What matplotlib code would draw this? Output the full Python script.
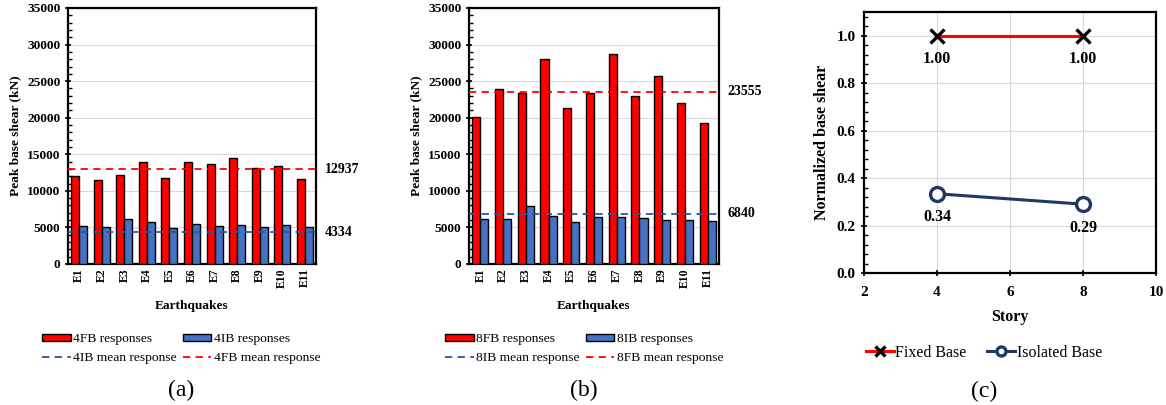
import numpy as np
import matplotlib
matplotlib.use("Agg")
import matplotlib.pyplot as plt
from matplotlib.ticker import MultipleLocator, FormatStrFormatter

plt.rcParams['font.family'] = ['Liberation Serif', 'DejaVu Serif']

earthquakes = ['E1', 'E2', 'E3', 'E4', 'E5', 'E6', 'E7', 'E8', 'E9', 'E10', 'E11']

fb4 = [12030, 11440, 12210, 13950, 11800, 13950, 13720, 14540, 13130, 13350, 11670]
ib4 = [5200, 5100, 6200, 5790, 4970, 5420, 5200, 5330, 5100, 5330, 5100]
fb4_mean = 12937
ib4_mean = 4334

fb8 = [20140, 23970, 23420, 28030, 21330, 23330, 28670, 22920, 25750, 22010, 19230]
ib8 = [6150, 6110, 7980, 6560, 5790, 6380, 6380, 6240, 6020, 6020, 5920]
fb8_mean = 23555
ib8_mean = 6840

stories = [4, 8]
fixed_norm = [1.00, 1.00]
isolated_norm = [0.334, 0.290]
fixed_labels = ['1.00', '1.00']
isolated_labels = ['0.34', '0.29']

RED = '#FF0000'
BLUE = '#4472C4'
DBLUE = '#2F5597'
NAVY = '#203864'

W, H = 1166, 405
fig = plt.figure(figsize=(W / 100, H / 100), dpi=100)


def px_axes(left, top, right, bottom):
    return fig.add_axes([left / W, 1 - bottom / H, (right - left) / W, (bottom - top) / H])


def style_spines(ax):
    for s in ax.spines.values():
        s.set_linewidth(1.6)


def bar_panel(ax, fb, ib, fb_mean, ib_mean, tag):
    x = np.arange(len(earthquakes))
    w = 0.355
    b_fb = ax.bar(x - w / 2, fb, w, color=RED, edgecolor='black', linewidth=1.0, zorder=3)
    b_ib = ax.bar(x + w / 2, ib, w, color=BLUE, edgecolor='black', linewidth=1.0, zorder=3)
    l_ib = ax.axhline(ib_mean, color=DBLUE, ls=(0, (4, 3)), lw=1.3, zorder=4)
    l_fb = ax.axhline(fb_mean, color=RED, ls=(0, (4, 3)), lw=1.3, zorder=4)
    ax.set_xlim(-0.5, len(earthquakes) - 0.5)
    ax.set_ylim(0, 35000)
    ax.yaxis.set_major_locator(MultipleLocator(5000))
    ax.yaxis.set_minor_locator(MultipleLocator(1000))
    ax.grid(axis='y', color='#D9D9D9', lw=0.8, zorder=0)
    ax.set_xticks(x)
    ax.set_xticklabels(earthquakes, rotation=90, fontweight='bold', fontsize=8.5)
    ax.tick_params(axis='x', length=0, pad=3)
    ax.tick_params(axis='y', which='major', direction='inout', length=5, width=1.2,
                   labelsize=9.6, pad=3)
    ax.tick_params(axis='y', which='minor', direction='in', length=3, width=1.0)
    for lab in ax.get_yticklabels():
        lab.set_fontweight('bold')
    style_spines(ax)
    ax.set_ylabel('Peak base shear (kN)', fontweight='bold', fontsize=9.6, labelpad=4)
    ax.set_xlabel('Earthquakes', fontweight='bold', fontsize=9.6, labelpad=9)
    for v in (fb_mean, ib_mean):
        ax.text(1.035, v, f'{v}', transform=ax.get_yaxis_transform(),
                va='center', ha='left', fontweight='bold', fontsize=10)
    handles = [b_fb, l_ib, b_ib, l_fb]
    labels = [f'{tag}FB responses', f'{tag}IB mean response',
              f'{tag}IB responses', f'{tag}FB mean response']
    return handles, labels


def bar_legend(handles, labels, cx):
    fig.legend(handles, labels, ncol=2, loc='center', bbox_to_anchor=(cx / W, 1 - 348.5 / H),
               frameon=False, fontsize=9.7, handlelength=2.15, handleheight=0.45,
               handletextpad=0.15, columnspacing=0.45, labelspacing=0.5,
               borderaxespad=0, borderpad=0)


ax1 = px_axes(68, 8, 316, 264)
h, l = bar_panel(ax1, fb4, ib4, fb4_mean, ib4_mean, '4')
bar_legend(h, l, 181)
fig.text(181 / W, 1 - 390 / H, '(a)', ha='center', va='center', fontsize=17)

ax2 = px_axes(469, 8, 719, 264)
h, l = bar_panel(ax2, fb8, ib8, fb8_mean, ib8_mean, '8')
bar_legend(h, l, 584)
fig.text(584 / W, 1 - 390 / H, '(b)', ha='center', va='center', fontsize=17)

ax3 = px_axes(864, 12, 1156, 273)
ax3.plot(stories, fixed_norm, color=RED, lw=2.2, marker='x', ms=10, mec='black',
         mew=2.4, label='Fixed Base', zorder=3)
ax3.plot(stories, isolated_norm, color=NAVY, lw=2.2, marker='o', ms=10, mec=NAVY,
         mfc='white', mew=2.4, label='Isolated Base', zorder=3)
for xs, ys, lab in zip(stories + stories, fixed_norm + isolated_norm,
                       fixed_labels + isolated_labels):
    ax3.annotate(lab, (xs, ys), xytext=(0, -17), textcoords='offset points',
                 ha='center', va='center', fontweight='bold', fontsize=11.5)
ax3.set_xlim(2, 10)
ax3.set_ylim(0, 1.1)
ax3.xaxis.set_major_locator(MultipleLocator(2))
ax3.yaxis.set_major_locator(MultipleLocator(0.2))
ax3.yaxis.set_minor_locator(MultipleLocator(0.04))
ax3.yaxis.set_major_formatter(FormatStrFormatter('%.1f'))
ax3.grid(True, color='#D9D9D9', lw=0.8, zorder=0)
ax3.tick_params(axis='both', which='major', direction='inout', length=5, width=1.2,
                labelsize=11)
ax3.tick_params(axis='x', pad=7)
ax3.tick_params(axis='y', which='minor', direction='in', length=3, width=1.0)
for lab in ax3.get_xticklabels() + ax3.get_yticklabels():
    lab.set_fontweight('bold')
style_spines(ax3)
ax3.set_xlabel('Story', fontweight='bold', fontsize=11.5, labelpad=7)
ax3.set_ylabel('Normalized base shear', fontweight='bold', fontsize=11.5, labelpad=5)
fig.legend(*ax3.get_legend_handles_labels(), ncol=2, loc='center',
           bbox_to_anchor=(984 / W, 1 - 353 / H), frameon=False, fontsize=11.5,
           handlelength=1.75, handletextpad=0.1, columnspacing=1.3, markerscale=0.65,
           borderaxespad=0, borderpad=0)
fig.text(984 / W, 1 - 391 / H, '(c)', ha='center', va='center', fontsize=17)

fig.savefig('out.png', dpi=100)
